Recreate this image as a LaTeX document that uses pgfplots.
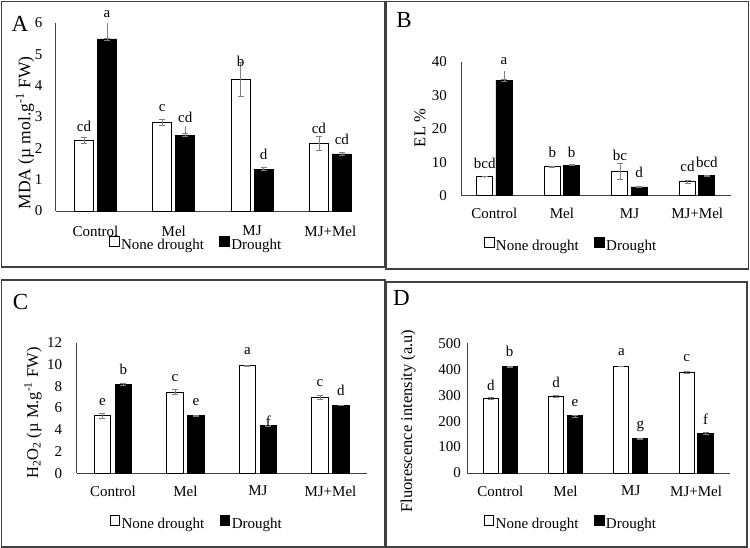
\documentclass[border=0pt]{standalone}
\usepackage{fontspec}
\setmainfont{Liberation Serif}
\usepackage{pgfplots}
\pgfplotsset{compat=1.18}

\pgfplotsset{
  panel/.style={
    scale only axis,
    anchor=south west,
    clip=false,
    axis x line=bottom, axis y line=left,
    axis line style={-, draw=black!75, line width=0.8pt},
    ymin=0,
    xtick={0,1,2,3},
    xticklabels={Control, Mel, MJ, MJ+Mel},
    major tick length=0pt,
    xticklabel style={yshift=-7.5pt},
    /pgf/number format/assume math mode=true,
    legend columns=2,
    legend style={draw=none, fill=none, anchor=center,
      /tikz/column 2/.style={column sep=14pt},
      nodes={inner xsep=1.5pt}},
    every axis y label/.style={rotate=90, anchor=center, font=\fontsize{16.5}{19}\selectfont},
  },
  errstyle/.style={
    error bars/y dir=both, error bars/y explicit,
    error bars/error bar style={draw=gray, line width=0.7pt},
    error bars/error mark options={rotate=90, draw=gray, mark size=3pt, line width=0.7pt}},
  nonebar/.style={ybar, bar shift=0pt, draw=black, fill=white, line width=0.9pt,
    legend image code/.code={\draw[##1] (0pt,-0.3pt) rectangle (9.5pt,9.6pt);},
    errstyle},
  drybar/.style={ybar, bar shift=0pt, draw=black, fill=black, line width=0.9pt,
    legend image code/.code={\draw[##1] (0pt,-0.3pt) rectangle (9.5pt,9.6pt);},
    errstyle},
  extbar/.style={ybar, bar shift=0pt, draw=none, fill=none, forget plot,
    error bars/y dir=plus, error bars/y explicit, error bars/error mark=none,
    error bars/error bar style={draw=gray, line width=0.7pt}},
}
\tikzset{panel letter/.style={font=\fontsize{23}{26}\selectfont}}

\begin{document}
\fontsize{15}{18}\selectfont
\begin{tikzpicture}
\useasboundingbox (0pt,0pt) rectangle (750pt,548pt);

% panel frames
\draw[black!75, line width=1.3pt] (1.5pt,281pt) rectangle (385pt,546.5pt);
\draw[black!75, line width=1.3pt] (386pt,279pt) rectangle (748.5pt,546.5pt);
\draw[black!75, line width=1.3pt] (1.5pt,1pt) rectangle (385pt,268pt);
\draw[black!75, line width=1.3pt] (386pt,1pt) rectangle (747pt,266pt);

% panel letters
\node[panel letter] at (20pt,524pt) {A};
\node[panel letter] at (404pt,528pt) {B};
\node[panel letter] at (20.5pt,245.5pt) {C};
\node[panel letter] at (401.5pt,250.5pt) {D};

% ---------------- A: MDA ----------------
\begin{axis}[panel, at={(55.5pt,337pt)}, width=296.5pt, height=188pt,
  xmin=-0.51, xmax=3.276, ymax=6, ytick={0,1,2,3,4,5,6}, bar width=0.243,
  yticklabel style={xshift=-8pt},
  xticklabel style={yshift=-2pt},
  ylabel={MDA (µ mol.g\textsuperscript{-1} FW)},
  ylabel style={at={(axis description cs:-0.103,0.415)}, font=\fontsize{17.5}{20}\selectfont},
  legend style={at={(0.474,-0.181)}}]
\addplot[nonebar] coordinates {(-0.147,2.25) +- (0,0.09) (0.853,2.83) +- (0,0.09) (1.853,4.20) +- (0,0.54) (2.853,2.16) +- (0,0.21)};
\addplot[drybar] coordinates {(0.147,5.49) +- (0,0.03) (1.147,2.42) +- (0,0.05) (2.147,1.34) +- (0,0.04) (3.147,1.82) +- (0,0.05)};
\addplot[extbar] coordinates {(0.147,5.49) +- (0,0.51) (1.147,2.42) +- (0,0.29)};
\legend{None drought, Drought}
\node at (axis cs:-0.147,2.69) {cd};
\node at (axis cs:0.147,6.29) {a};
\node at (axis cs:0.853,3.28) {c};
\node at (axis cs:1.147,3.00) {cd};
\node at (axis cs:1.853,4.76) {b};
\node at (axis cs:2.147,1.80) {d};
\node at (axis cs:2.853,2.63) {cd};
\node at (axis cs:3.147,2.28) {cd};
\end{axis}

% ---------------- B: EL ----------------
\begin{axis}[panel, at={(461pt,352.3pt)}, width=270pt, height=134pt,
  xmin=-0.493, xmax=3.50, ymax=40, ytick={0,10,20,30,40}, bar width=0.237,
  yticklabel style={xshift=-9pt},
  ylabel={EL \%},
  ylabel style={at={(axis description cs:-0.152,0.505)}},
  legend style={at={(0.407,-0.375)}}]
\addplot[nonebar] coordinates {(-0.143,5.7) +- (0,0.05) (0.857,8.7) +- (0,0.1) (1.857,7.35) +- (0,2.33) (2.857,4.2) +- (0,0.5)};
\addplot[drybar] coordinates {(0.143,34.4) +- (0,0.3) (1.143,9.1) +- (0,0.15) (2.143,2.6) +- (0,0.1) (3.143,5.9) +- (0,0.15)};
\addplot[extbar] coordinates {(0.143,34.4) +- (0,2.8)};
\legend{None drought, Drought}
\node at (axis cs:-0.143,9.76) {bcd};
\node at (axis cs:0.143,40.3) {a};
\node at (axis cs:0.857,12.8) {b};
\node at (axis cs:1.143,12.8) {b};
\node at (axis cs:1.857,12.1) {bc};
\node at (axis cs:2.143,7.0) {d};
\node at (axis cs:2.857,8.66) {cd};
\node at (axis cs:3.143,10.0) {bcd};
\end{axis}

% ---------------- C: H2O2 ----------------
\begin{axis}[panel, at={(76.7pt,74.7pt)}, width=290pt, height=130.6pt,
  xmin=-0.50, xmax=3.50, ymax=12, ytick={0,2,4,6,8,10,12}, bar width=0.228,
  yticklabel style={xshift=-9.4pt},
  ylabel={H\textsubscript{2}O\textsubscript{2} (µ M.g\textsuperscript{-1} FW)},
  ylabel style={at={(axis description cs:-0.151,0.462)}},
  legend style={at={(0.413,-0.388)}}]
\addplot[nonebar] coordinates {(-0.145,5.27) +- (0,0.2) (0.855,7.47) +- (0,0.2) (1.855,9.89) +- (0,0.06) (2.855,6.95) +- (0,0.2)};
\addplot[drybar] coordinates {(0.145,8.18) +- (0,0.06) (1.145,5.30) +- (0,0.03) (2.145,4.38) +- (0,0.06) (3.145,6.25) +- (0,0.03)};
\legend{None drought, Drought}
\node at (axis cs:-0.145,6.58) {e};
\node at (axis cs:0.145,9.54) {b};
\node at (axis cs:0.855,8.79) {c};
\node at (axis cs:1.145,6.58) {e};
\node at (axis cs:1.855,11.24) {a};
\node at (axis cs:2.145,4.78) {f};
\node at (axis cs:2.855,8.27) {c};
\node at (axis cs:3.145,7.61) {d};
\end{axis}

% ---------------- D: fluorescence ----------------
\begin{axis}[panel, at={(467pt,75pt)}, width=263pt, height=129.7pt,
  xmin=-0.51, xmax=3.52, ymax=500, ytick={0,100,200,300,400,500}, bar width=0.233,
  yticklabel style={xshift=-1pt},
  ylabel={Fluorescence intensity (a.u)},
  ylabel style={at={(axis description cs:-0.224,0.40)}},
  legend style={at={(0.394,-0.393)}}]
\addplot[nonebar] coordinates {(-0.145,287) +- (0,5) (0.855,296) +- (0,3) (1.855,411) +- (0,1) (2.855,388) +- (0,3)};
\addplot[drybar] coordinates {(0.145,409) +- (0,3) (1.145,220) +- (0,4) (2.145,132) +- (0,3) (3.145,153) +- (0,3)};
\legend{None drought, Drought}
\node at (axis cs:-0.145,339) {d};
\node at (axis cs:0.145,470) {b};
\node at (axis cs:0.855,351) {d};
\node at (axis cs:1.145,271) {e};
\node at (axis cs:1.855,468) {a};
\node at (axis cs:2.145,182) {g};
\node at (axis cs:2.855,444) {c};
\node at (axis cs:3.145,207) {f};
\end{axis}
\end{tikzpicture}
\end{document}
